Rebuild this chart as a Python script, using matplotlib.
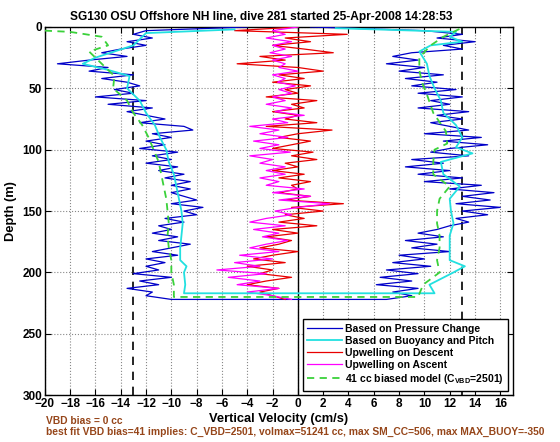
import numpy as np
import matplotlib
matplotlib.use('Agg')
import matplotlib.pyplot as plt

plt.rcParams['font.family'] = ['Liberation Sans', 'DejaVu Sans']
plt.rcParams['font.weight'] = 'bold'
plt.rcParams['mathtext.fontset'] = 'custom'
plt.rcParams['mathtext.rm'] = 'Liberation Sans:bold'
plt.rcParams['mathtext.bf'] = 'Liberation Sans:bold'

# depth grid of the noisy profiles (m)
depth_3m = np.arange(0, 223, 3)

# vertical velocity from pressure change, descent (cm/s)
w_press_dn = [-4, -12, -13, -11.5, -13.5, -12, -14, -15.5, -13.5, -16.5,
              -19, -15, -16.5, -13, -15.5, -13.5, -12.5, -14.5, -13, -16,
              -12, -15, -11.5, -13.5, -12, -10.5, -12.5, -9, -8.3, -11.5,
              -10, -12, -10.5, -12.5, -9.5, -11.5, -10, -12, -9.5, -11,
              -9, -10.5, -8.5, -10, -8.5, -10, -9, -8, -10, -7.5,
              -9, -8, -10.5, -9, -11, -10, -11.5, -9.5, -11, -8.5,
              -10, -11.5, -9.5, -12, -10.5, -12, -11, -13, -10, -12.5,
              -11, -13.5, -11.5, -12, -10]
# vertical velocity from pressure change, ascent (cm/s), by depth
w_press_up = [1, 10, 13, 11, 14, 11.5, 13, 9, 7.5, 9.5,
              7, 10, 8, 11.5, 8.5, 11, 9, 12.5, 9.5, 13,
              10.5, 12, 9.5, 13.5, 11, 13, 10.5, 12, 13.5, 10,
              14.5, 11.5, 15, 12, 10.5, 13.5, 9, 11.5, 8.5, 12,
              9.5, 13, 10, 14.5, 12, 15.5, 13, 15.2, 12.5, 16,
              13, 15, 12.5, 13.5, 12, 11, 9.5, 11.5, 8.5, 11,
              9, 12, 8, 10, 7.5, 10.5, 7, 9.5, 6.5, 9,
              6.2, 9.5, 7.5, 9, 7]
# upwelling on descent and on ascent (cm/s)
upw_dn = [0, -5, 3.9, -1, 1, -2, 0.5, 2.8, -3, -1,
          -4.8, 0, 2, -1.5, 0.5, -2, 1, -1, 0, -2.5,
          1.5, -0.5, 0.5, -2, 0, -1, 1.5, -2.5, 2.7, 0,
          -1.5, 1, -0.5, -2, 1.2, -0.5, 1.5, -1, 0, -2,
          0.5, -1.5, 1, -0.5, 0, -1.5, 1, -1, 3.6, -0.5,
          2, -1, 0.5, -1.5, 1.5, -2, 0, -2.5, -0.5, -1.5,
          -3, 0, -2, -3.5, -1, -4, -2, -3, -0.5, -2.5,
          -4, -1.5, -3, -2, -1]
upw_up = [0, -2, -1, -2.5, -0.5, -2, -1, -2.2, -0.5, -2,
          -1, -1.5, 0, -2, -1, -1.6, -0.2, -1.5, -0.5, -2,
          -1, -2.5, -0.5, -1.8, 0.5, -2, -0.8, -3.8, -1.5, -3,
          -0.8, -3.5, -1.5, -3, -0.6, -3.8, -2, -3, -1, -2.5,
          -1, -3, -1.5, -2.5, 0.5, -2, 1, -1.5, 2.5, 0,
          -1.8, -0.5, -2.5, -3.8, -1, -3.5, -1.5, -2.8, -0.8, -2.5,
          -3.8, -1.5, -4.6, -2, -5, -3, -6.4, -2.5, -5.5, -3,
          -4.8, -1.5, -4, -2, -0.5]

# vertical velocity from buoyancy and pitch
depth_buoy_dn = [2, 5, 10, 15, 20, 25, 30, 35, 40, 50, 60, 70, 80, 90, 100,
                 110, 120, 130, 140, 150, 160, 170, 180, 190, 195, 200, 210, 217]
w_buoy_dn = [-5, -12, -12.5, -13, -14.5, -16, -17, -15, -13.3, -13.5, -12.5,
             -12, -11.3, -10.9, -10.4, -10.2, -9.8, -9.6, -9.4, -9.2, -9.1,
             -9.2, -9.3, -9.3, -8.8, -9, -8.9, -9]
depth_buoy_up = [217, 210, 200, 195, 190, 180, 170, 160, 150, 140, 130, 120,
                 110, 103, 98, 90, 80, 70, 60, 50, 40, 30, 20, 15, 12, 8, 4, 1]
w_buoy_up = [10.8, 10.4, 12.3, 13.2, 12.0, 12.0, 12.0, 12.3, 12.1, 12.0, 12.8,
             11.5, 11.3, 13.8, 12.5, 13, 12.5, 11.5, 11.3, 10.8, 10.4, 10.2,
             9.6, 10.5, 13, 12, 12.5, 3]

# 41 cc biased model
depth_model_dn = [2.5, 4, 8, 15, 20, 30, 40, 50, 60, 70, 80, 90, 100, 110, 120,
                  130, 140, 150, 160, 170, 180, 190, 200, 210, 220]
w_model_dn = [-21, -18, -15.5, -15, -16.5, -15.5, -14.5, -14.6, -13.5, -13,
              -12.3, -11.8, -11.4, -11, -10.8, -10.6, -10.4, -10.3, -10.2,
              -10.3, -10.2, -10, -10, -9.8, -9.8]
depth_model_up = [220, 210, 200, 190, 180, 170, 160, 150, 140, 130, 120, 110,
                  100, 95, 85, 70, 55, 45, 35, 25, 15, 8, 3, 0.5]
w_model_up = [9.5, 9.9, 11.2, 11.0, 11.2, 11.2, 11.0, 11.0, 11.2, 12, 10.7,
              10.7, 10.8, 11.8, 11.7, 10.7, 10.2, 9.8, 9.6, 9.6, 10.5, 11.5,
              12.5, 13]

xticks = np.arange(-20, 17, 2)
yticks = np.arange(0, 301, 50)

fig = plt.figure(figsize=(5.6, 4.42), dpi=100)
ax = fig.add_axes([0.080, 0.106, 0.836, 0.833])

d_press = np.concatenate([depth_3m, depth_3m[::-1]])
w_press = np.concatenate([w_press_dn, w_press_up[::-1]])
ax.plot(w_press, d_press, color='#0000c8', lw=0.9, label='Based on Pressure Change', zorder=3)
ax.plot(np.concatenate([w_buoy_dn, w_buoy_up]),
        np.concatenate([depth_buoy_dn, depth_buoy_up]),
        color='#22e0e0', lw=1.3, label='Based on Buoyancy and Pitch', zorder=4)
ax.plot(upw_dn, depth_3m, color='#e80000', lw=0.9, label='Upwelling on Descent', zorder=3)
ax.plot(upw_up, depth_3m, color='#ff00ff', lw=0.9, label='Upwelling on Ascent', zorder=3)
ax.plot(np.concatenate([w_model_dn, w_model_up]),
        np.concatenate([depth_model_dn, depth_model_up]),
        color='#3ad13a', lw=1.3, ls='--', dashes=(4, 3),
        label='41 cc biased model (C$_{\\mathregular{VBD}}$=2501)', zorder=5)

# zero line and +-13 reference lines
ax.axvline(0, color='k', lw=1, zorder=2)
for xv in (-13, 13):
    ax.axvline(xv, color='k', lw=1.2, ls='--', dashes=(5, 4), zorder=2)

ax.set_xlim(-20, 17)
ax.set_ylim(300, 0)
ax.set_xticks(xticks)
ax.set_yticks(yticks)
ax.grid(True, color='#888888', ls=':', lw=0.8)
ax.tick_params(direction='in', top=True, right=True, labelsize=8.5, length=4, pad=2)
for s in ax.spines.values():
    s.set_linewidth(1)

ax.set_title('SG130 OSU Offshore NH line, dive 281 started 25-Apr-2008 14:28:53',
             fontsize=8.6, fontweight='bold', pad=5, x=0.462)
ax.set_xlabel('Vertical Velocity (cm/s)', fontsize=9.3, fontweight='bold', labelpad=2)
ax.set_ylabel('Depth (m)', fontsize=9.3, fontweight='bold', labelpad=4)

leg = ax.legend(loc='lower right', bbox_to_anchor=(0.99, 0.012), borderaxespad=0,
                fontsize=7.5, fancybox=False, framealpha=1, edgecolor='k',
                handlelength=3.3, labelspacing=0.2, borderpad=0.45, handletextpad=0.3)
leg.get_frame().set_linewidth(1)
leg.set_zorder(10)

brown = '#96461a'
fig.text(0.083, 0.047, 'VBD bias = 0 cc', color=brown, fontsize=7.4, fontweight='bold', va='center')
fig.text(0.083, 0.022, 'best fit VBD bias=41 implies: C_VBD=2501, volmax=51241 cc, '
         'max SM_CC=506, max MAX_BUOY=-350', color=brown, fontsize=7.4,
         fontweight='bold', va='center')

fig.savefig('out.png', dpi=100)
